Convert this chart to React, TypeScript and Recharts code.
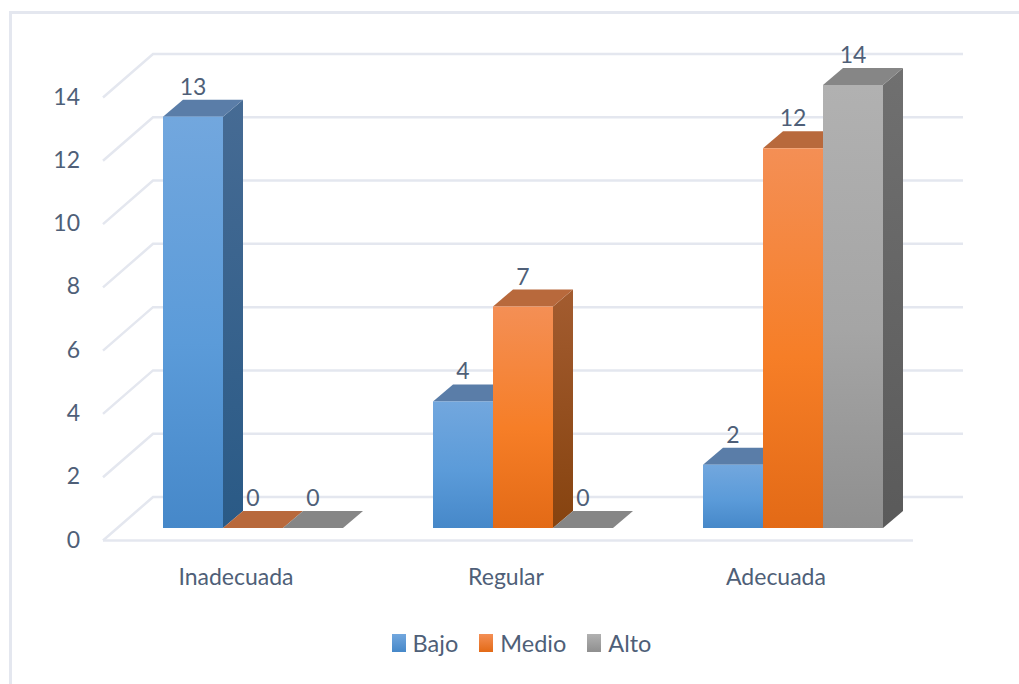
import React from "react";
import { BarChart, Bar, XAxis, YAxis, CartesianGrid, LabelList, Legend } from "recharts";

const categories = ["Inadecuada", "Regular", "Adecuada"];
const bajo = [13, 4, 2];
const medio = [0, 7, 12];
const alto = [0, 0, 14];
const yTicks = [0, 2, 4, 6, 8, 10, 12, 14];
const seriesNames = ["Bajo", "Medio", "Alto"];

const data = categories.map((name, i) => ({ name, Bajo: bajo[i], Medio: medio[i], Alto: alto[i] }));

const FONT = "Lato, sans-serif";
const TEXT = "#4f5f78";
const GRID = "#e4e7ef";
const PLOT_TOP = 85;
const PLOT_BOTTOM = 528;
const LEGEND_H = 28;
const DX = 20;
const DY = 17;

const palette: Record<string, { f0: string; f1: string; f2: string; s0: string; s1: string; top: string }> = {
  Bajo: { f0: "#72a7de", f1: "#5b9bd9", f2: "#4688c9", s0: "#466b94", s1: "#2a5a86", top: "#5a7da8" },
  Medio: { f0: "#f48f55", f1: "#f67e27", f2: "#e36a16", s0: "#a35c30", s1: "#86430f", top: "#b8693c" },
  Alto: { f0: "#b1b1b1", f1: "#a5a5a5", f2: "#8f8f8f", s0: "#707070", s1: "#5a5a5a", top: "#868686" },
};

const Gradients = () => (
  <defs>
    {seriesNames.map((n) => (
      <React.Fragment key={n}>
        <linearGradient id={`front-${n}`} x1="0" y1="0" x2="0" y2="1">
          <stop offset="0%" stopColor={palette[n].f0} />
          <stop offset="55%" stopColor={palette[n].f1} />
          <stop offset="100%" stopColor={palette[n].f2} />
        </linearGradient>
        <linearGradient id={`side-${n}`} x1="0" y1="0" x2="0" y2="1">
          <stop offset="0%" stopColor={palette[n].s0} />
          <stop offset="100%" stopColor={palette[n].s1} />
        </linearGradient>
      </React.Fragment>
    ))}
  </defs>
);

const Bar3D = (name: string) => (props: any) => {
  const { x, y, width, height } = props;
  const right = x + width;
  const bottom = y + height;
  return (
    <g>
      {height > 0 && (
        <polygon
          points={`${right},${y} ${right + DX},${y - DY} ${right + DX},${bottom - DY} ${right},${bottom}`}
          fill={`url(#side-${name})`}
        />
      )}
      <polygon
        points={`${x},${y} ${x + DX},${y - DY} ${right + DX},${y - DY} ${right},${y}`}
        fill={palette[name].top}
      />
      {height > 0 && <rect x={x} y={y} width={width} height={height} fill={`url(#front-${name})`} />}
    </g>
  );
};

const GridLine = (props: any) => {
  const { x1, x2, y1 } = props;
  const isFloor = Math.abs(y1 - PLOT_BOTTOM) < 1;
  const frontLeft = x1 - 15;
  const backLeft = x1 + 35;
  const backRight = x2 + 35;
  const frontRight = x2 - 15;
  return (
    <g fill="none" stroke={GRID} strokeWidth={2.5}>
      <path d={`M${frontLeft} ${y1 + 12.5} L${backLeft} ${y1 - 31} L${backRight} ${y1 - 31}`} />
      {isFloor && <path d={`M${frontLeft} ${y1 + 12.5} L${frontRight} ${y1 + 12.5}`} />}
    </g>
  );
};

const YTick = (props: any) => (
  <text x={80} y={props.y + 10.5} textAnchor="end" dominantBaseline="central" fontFamily={FONT} fontSize={23} fill={TEXT}>
    {props.payload.value}
  </text>
);

const XTick = (props: any) => (
  <text x={props.x - 17} y={props.y + 40} textAnchor="middle" dominantBaseline="central" fontFamily={FONT} fontSize={23} fill={TEXT}>
    {props.payload.value}
  </text>
);

const LegendContent = (props: any) => (
  <div style={{ display: "flex", justifyContent: "center", alignItems: "center", height: LEGEND_H, fontFamily: FONT, fontSize: 23.5, color: TEXT }}>
    {(props.payload || []).map((p: any) => (
      <div key={p.value} style={{ display: "flex", alignItems: "center", marginRight: 21 }}>
        <div
          style={{
            width: 14,
            height: 18,
            marginRight: 7,
            background: `linear-gradient(${palette[p.value].f0}, ${palette[p.value].f2})`,
          }}
        />
        <span>{p.value}</span>
      </div>
    ))}
  </div>
);

export default function App() {
  return (
    <div style={{ position: "absolute", left: 0, top: 0, width: 1019, height: 684, background: "#fff", overflow: "hidden" }}>
      <div
        style={{
          position: "absolute",
          left: 9,
          top: 11,
          width: 1010,
          height: 673,
          borderLeft: `3px solid ${GRID}`,
          borderTop: `3px solid ${GRID}`,
          boxSizing: "border-box",
        }}
      />
      <div style={{ position: "absolute", left: 0, top: 0 }}>
        <BarChart
          width={1019}
          height={684}
          data={data}
          margin={{ left: 58, right: 91, top: PLOT_TOP, bottom: 0 }}
          barCategoryGap="16.667%"
          barGap={0}
        >
          <Gradients />
          <CartesianGrid vertical={false} horizontal={(p: any) => <GridLine key={p.key} {...p} />} />
          <XAxis dataKey="name" axisLine={false} tickLine={false} height={684 - PLOT_BOTTOM - LEGEND_H} tick={<XTick />} interval={0} />
          <YAxis width={60} domain={[0, 14]} ticks={yTicks} axisLine={false} tickLine={false} tick={<YTick />} />
          <Legend
            verticalAlign="bottom"
            itemSorter={null as any}
            content={<LegendContent />}
            wrapperStyle={{ left: 0, width: 1064, top: 629, bottom: "auto" }}
          />
          {seriesNames.map((n) => (
            <Bar key={n} dataKey={n} isAnimationActive={false} fill={palette[n].f1} shape={Bar3D(n)}>
              <LabelList
                dataKey={n}
                position="top"
                offset={22}
                style={{ fontFamily: FONT, fontSize: 23, fill: TEXT }}
              />
            </Bar>
          ))}
        </BarChart>
      </div>
    </div>
  );
}
